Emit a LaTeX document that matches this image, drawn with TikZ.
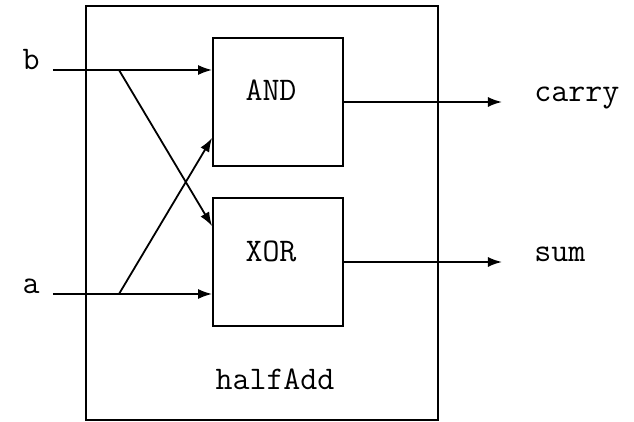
\documentclass[tikz,border=0pt]{standalone}
\usetikzlibrary{arrows.meta}

\begin{document}
\begin{tikzpicture}[x=0.5pt,y=-0.5pt,
  every node/.style={font=\ttfamily\fontsize{16.5pt}{19pt}\selectfont},
  gatebox/.style={draw,line width=0.9pt,minimum width=65pt,minimum height=64pt,inner sep=0pt},
  wire/.style={line width=0.9pt,-{Latex[length=7pt,width=5pt]}},
  pin/.style={inner sep=0pt}]
\useasboundingbox (0,0) rectangle (634,422);
\node[draw,line width=0.9pt,minimum width=176pt,minimum height=207pt,inner sep=0pt] (halfAdd) at (262,213) {};
\node[gatebox] (andGate) at (278,102) {};
\node[gatebox] (xorGate) at (278,262) {};
\node[pin,anchor=base] (andText) at (271,101) {AND};
\node[pin,anchor=base] (xorText) at (271,262) {XOR};
\node[pin,anchor=base] (halfAddText) at (275,390) {halfAdd};
% inputs and outputs
\node[pin,anchor=base east] (bLabel) at (40,70) {b};
\node[pin,anchor=base east] (aLabel) at (40,294) {a};
\node[pin,anchor=base west] (carryLabel) at (534,102) {carry};
\node[pin,anchor=base west] (sumLabel) at (534,262) {sum};
\coordinate (bIn) at (53,70);
\coordinate (aIn) at (53,294);
\coordinate (bSplit) at (119,70);
\coordinate (aSplit) at (119,294);
\coordinate (carryOut) at (502,102);
\coordinate (sumOut) at (502,262);
\draw[wire] (bIn) -- (andGate.west |- bIn);
\draw[wire] (aIn) -- (xorGate.west |- aIn);
\draw[wire] (bSplit) -- ([yshift=-14.5pt]xorGate.north west);
\draw[wire] (aSplit) -- ([yshift=14.5pt]andGate.south west);
\draw[wire] (andGate.east) -- (carryOut);
\draw[wire] (xorGate.east) -- (sumOut);
\end{tikzpicture}
\end{document}
